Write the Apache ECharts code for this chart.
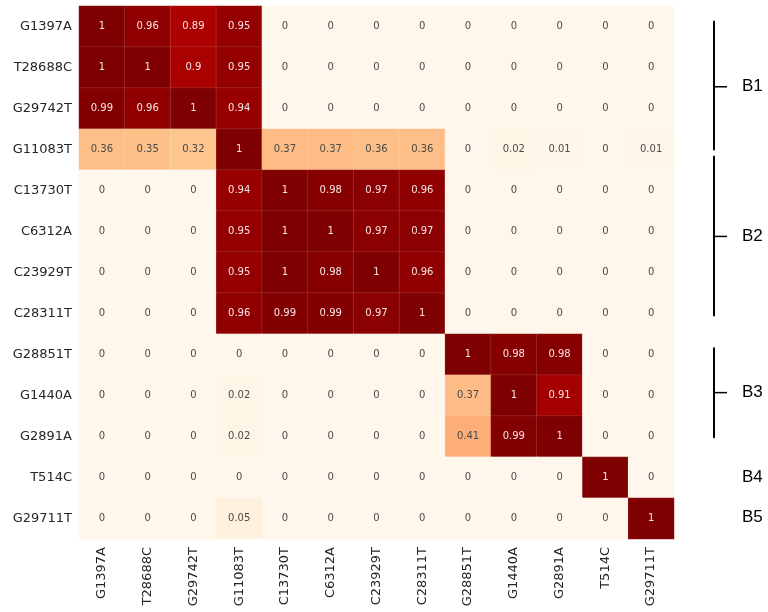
<!DOCTYPE html>
<html>
<head>
<meta charset="utf-8">
<script src="https://cdn.jsdelivr.net/npm/echarts@6/dist/echarts.min.js"></script>
<style>
  html, body { margin: 0; padding: 0; background: #ffffff; }
  #chart { width: 768px; height: 612px; }
</style>
</head>
<body>
<div id="chart"></div>
<script>
// Mutation names, used for both axes (same order)
const mutations = ['G1397A', 'T28688C', 'G29742T', 'G11083T', 'C13730T', 'C6312A',
  'C23929T', 'C28311T', 'G28851T', 'G1440A', 'G2891A', 'T514C', 'G29711T'];

// Linkage matrix, one row per mutation (top to bottom)
const rowG1397A  = [1, 0.96, 0.89, 0.95, 0, 0, 0, 0, 0, 0, 0, 0, 0];
const rowT28688C = [1, 1, 0.9, 0.95, 0, 0, 0, 0, 0, 0, 0, 0, 0];
const rowG29742T = [0.99, 0.96, 1, 0.94, 0, 0, 0, 0, 0, 0, 0, 0, 0];
const rowG11083T = [0.36, 0.35, 0.32, 1, 0.37, 0.37, 0.36, 0.36, 0, 0.02, 0.01, 0, 0.01];
const rowC13730T = [0, 0, 0, 0.94, 1, 0.98, 0.97, 0.96, 0, 0, 0, 0, 0];
const rowC6312A  = [0, 0, 0, 0.95, 1, 1, 0.97, 0.97, 0, 0, 0, 0, 0];
const rowC23929T = [0, 0, 0, 0.95, 1, 0.98, 1, 0.96, 0, 0, 0, 0, 0];
const rowC28311T = [0, 0, 0, 0.96, 0.99, 0.99, 0.97, 1, 0, 0, 0, 0, 0];
const rowG28851T = [0, 0, 0, 0, 0, 0, 0, 0, 1, 0.98, 0.98, 0, 0];
const rowG1440A  = [0, 0, 0, 0.02, 0, 0, 0, 0, 0.37, 1, 0.91, 0, 0];
const rowG2891A  = [0, 0, 0, 0.02, 0, 0, 0, 0, 0.41, 0.99, 1, 0, 0];
const rowT514C   = [0, 0, 0, 0, 0, 0, 0, 0, 0, 0, 0, 1, 0];
const rowG29711T = [0, 0, 0, 0.05, 0, 0, 0, 0, 0, 0, 0, 0, 1];

const matrixRows = [rowG1397A, rowT28688C, rowG29742T, rowG11083T, rowC13730T, rowC6312A,
  rowC23929T, rowC28311T, rowG28851T, rowG1440A, rowG2891A, rowT514C, rowG29711T];

// Block labels with the row span (in row units, 0 = top edge) their brackets cover
const blockNames = ['B1', 'B2', 'B3', 'B4', 'B5'];
const blockStart = [0.38, 3.67, 8.35, null, null];
const blockEnd   = [3.5, 7.55, 10.52, null, null];
const blockLabelAt = [1.97, 5.62, 9.43, 11.5, 12.47];

// OrRd colour ramp
const orRd = ['#fff7ec', '#fee8c8', '#fdd49e', '#fdbb84', '#fc8d59',
  '#ef6548', '#d7301f', '#b30000', '#7f0000'];

const cells = [];
matrixRows.forEach((row, y) => {
  row.forEach((v, x) => {
    cells.push({
      value: [x, y, v],
      label: { color: v > 0.6 ? '#f7e4e4' : '#4a4a4a' }
    });
  });
});

const chart = echarts.init(document.getElementById('chart'), null, { renderer: 'canvas' });

const grid = { left: 79, top: 6, right: 94, bottom: 73 };

chart.setOption({
  backgroundColor: '#ffffff',
  animation: false,
  grid: grid,
  xAxis: {
    type: 'category',
    data: mutations,
    axisLine: { show: false },
    axisTick: { show: false },
    splitLine: { show: false },
    axisLabel: {
      rotate: 90,
      margin: 8,
      color: '#262626',
      fontSize: 13,
      fontFamily: 'DejaVu Sans'
    }
  },
  yAxis: {
    type: 'category',
    data: mutations,
    inverse: true,
    axisLine: { show: false },
    axisTick: { show: false },
    splitLine: { show: false },
    axisLabel: {
      margin: 7,
      color: '#262626',
      fontSize: 13,
      fontFamily: 'DejaVu Sans'
    }
  },
  visualMap: {
    show: false,
    min: 0,
    max: 1,
    dimension: 2,
    inRange: { color: orRd }
  },
  series: [{
    type: 'heatmap',
    data: cells,
    itemStyle: { borderColor: 'rgba(255,255,255,0.22)', borderWidth: 0.5 },
    label: {
      show: true,
      fontSize: 10,
      fontFamily: 'DejaVu Sans',
      formatter: p => String(p.value[2])
    },
    emphasis: { disabled: true }
  }]
});

// Block brackets on the right, placed in row units of the y axis
function drawBlocks() {
  const y0 = chart.convertToPixel({ yAxisIndex: 0 }, 0);
  const y1 = chart.convertToPixel({ yAxisIndex: 0 }, 1);
  const rowH = y1 - y0;
  const top = y0 - rowH / 2;
  const rowY = r => top + r * rowH;
  const gridRight = chart.getWidth() - grid.right;
  const lineX = gridRight + 40;
  const elements = [];
  blockNames.forEach((name, i) => {
    if (blockStart[i] !== null) {
      elements.push({
        type: 'line',
        shape: { x1: lineX, y1: rowY(blockStart[i]), x2: lineX, y2: rowY(blockEnd[i]) },
        style: { stroke: '#000', lineWidth: 2, lineCap: 'round' }
      });
      elements.push({
        type: 'line',
        shape: { x1: lineX, y1: rowY(blockLabelAt[i]), x2: lineX + 13, y2: rowY(blockLabelAt[i]) },
        style: { stroke: '#000', lineWidth: 1.5 }
      });
    }
    elements.push({
      type: 'text',
      x: lineX + 28,
      y: rowY(blockLabelAt[i]),
      style: {
        text: name,
        fill: '#000',
        font: '17px "Liberation Sans", Arial, sans-serif',
        textVerticalAlign: 'middle',
        verticalAlign: 'middle'
      }
    });
  });
  chart.setOption({ graphic: { elements: elements } });
}
drawBlocks();
</script>
</body>
</html>
